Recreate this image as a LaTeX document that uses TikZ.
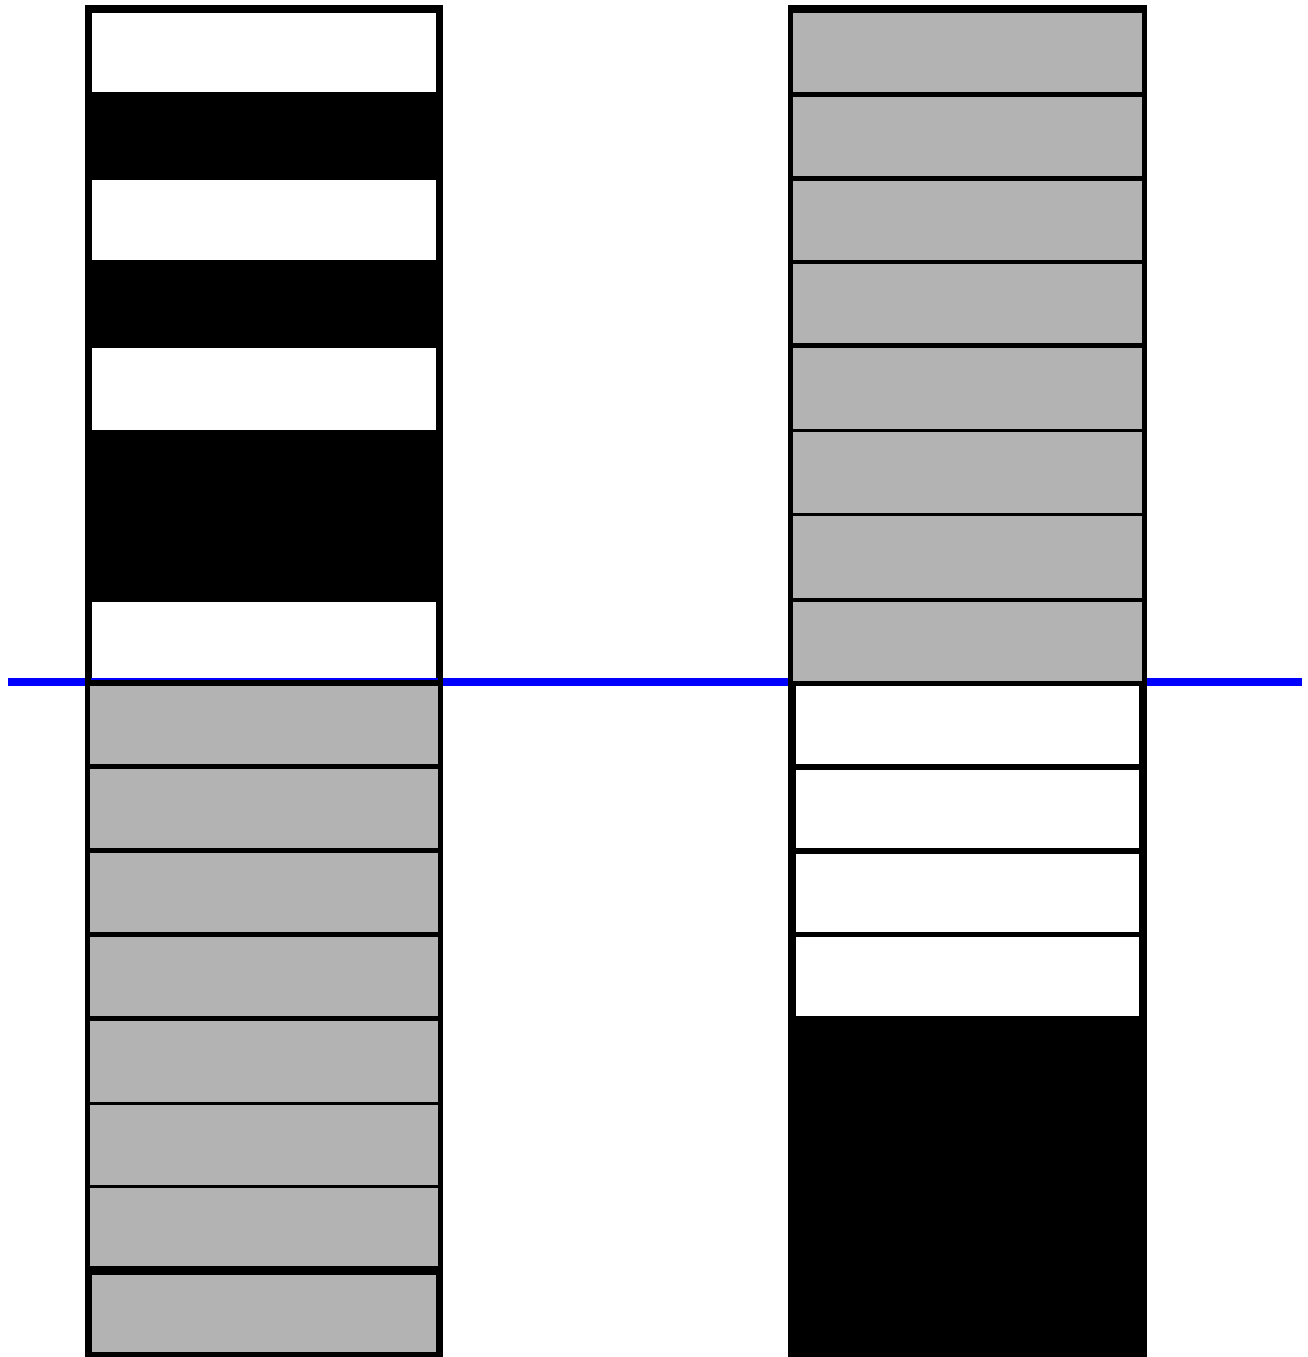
\documentclass[tikz,border=0pt]{standalone}
\definecolor{cellgray}{RGB}{179,179,179}
\definecolor{lineblue}{RGB}{0,0,255}
\begin{document}
\begin{tikzpicture}[x=1pt,y=-1pt]
\tikzset{
  wcell/.style={fill=white},
  gcell/.style={fill=cellgray},
  colbg/.style={fill=black},
  bluebar/.style={fill=lineblue}
}
\useasboundingbox (0,0) rectangle (1308,1357);
% ---------- left column, upper part ----------
\fill[colbg] (84.5,5) rectangle (443,1357);
\foreach \a/\b in {13/92,180/260,348/430,602/680}
  \fill[wcell] (92,\a) rectangle (436,\b);
% ---------- blue line ----------
\fill[bluebar] (8,678) rectangle (1302,686);
% ---------- left column, lower part ----------
\fill[colbg] (84.5,680) rectangle (443,686);
\fill[colbg] (84.5,676) rectangle (90.5,688);
\fill[colbg] (437.5,676) rectangle (443,688);
\foreach \a/\b in {686/764,769/848,853/932,937/1016,1021/1102,1105/1185,1188/1266}
  \fill[gcell] (89.5,\a) rectangle (438.3,\b);
\fill[gcell] (92,1275) rectangle (436,1352);
% ---------- right column ----------
\fill[colbg] (788,5) rectangle (1147,1357);
\foreach \a/\b in {13/92,97/175.5,181/259.5,264/343,348/429,432/513,516/597.5,602/680.5}
  \fill[gcell] (793,\a) rectangle (1141.7,\b);
\foreach \a/\b in {686/764,770/848,854/932,937/1016}
  \fill[wcell] (796,\a) rectangle (1138.7,\b);
\end{tikzpicture}
\end{document}
